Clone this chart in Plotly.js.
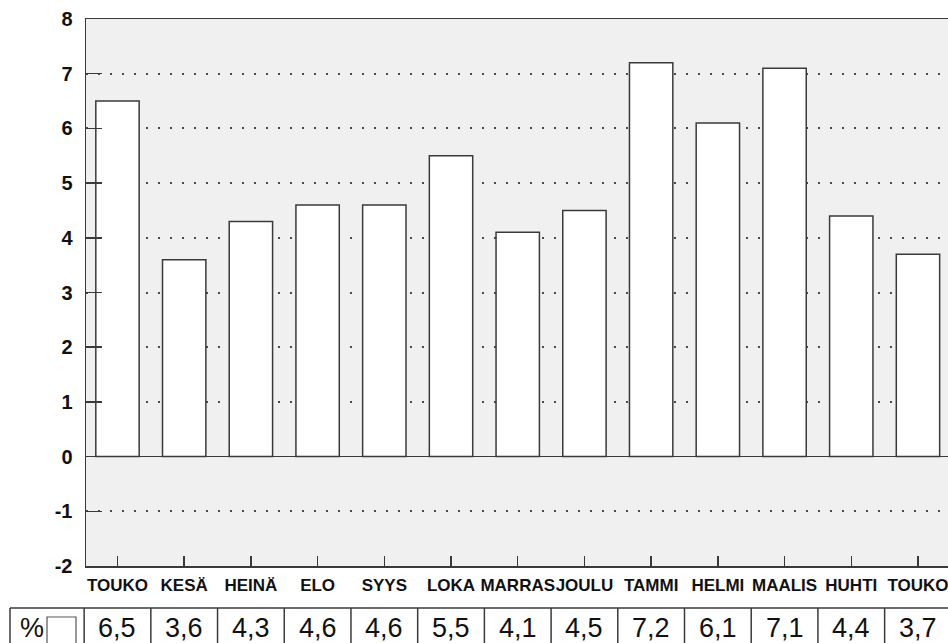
<!DOCTYPE html>
<html>
<head>
<meta charset="utf-8">
<script src="https://cdn.plot.ly/plotly-3.0.1.min.js"></script>
<style>html,body{margin:0;padding:0;background:#fff;}#chart{width:948px;height:643px;}</style>
</head>
<body>
<div id="chart"></div>
<script>
// Data
const months = ['TOUKO','KESÄ','HEINÄ','ELO','SYYS','LOKA','MARRAS','JOULU','TAMMI','HELMI','MAALIS','HUHTI','TOUKO'];
const values = [6.5, 3.6, 4.3, 4.6, 4.6, 5.5, 4.1, 4.5, 7.2, 6.1, 7.1, 4.4, 3.7];
const unitLabel = '%';
const yTicks = [-2, -1, 0, 1, 2, 3, 4, 5, 6, 7, 8];

const idx = months.map((_, i) => i);
const xRange = [-0.472, 12.45];
const W = 948, H = 643;
const margin = {l: 86, r: 0, t: 19, b: 77};
const plotH = H - margin.t - margin.b;
function px2paperY(py) { return (H - margin.b - py) / plotH; }
function data2paperX(x) { return (x - xRange[0]) / (xRange[1] - xRange[0]); }
function px2dataX(px) { return xRange[0] + (px - margin.l) / (W - margin.l - margin.r) * (xRange[1] - xRange[0]); }

const lineColor = '#3a3a3a';
const tableTop = px2paperY(608);
const tableBottom = px2paperY(700);

const shapes = [];
shapes.push({type: 'line', xref: 'paper', yref: 'paper', x0: data2paperX(px2dataX(10)), x1: 1.05, y0: tableTop, y1: tableTop, line: {color: lineColor, width: 1.5}});
shapes.push({type: 'line', xref: 'paper', yref: 'paper', x0: data2paperX(px2dataX(10)), x1: data2paperX(px2dataX(10)), y0: tableTop, y1: tableBottom, line: {color: lineColor, width: 1.5}});
for (let i = -1; i < months.length - 1; i++) {
  const xp = data2paperX(i + 0.5);
  shapes.push({type: 'line', xref: 'paper', yref: 'paper', x0: xp, x1: xp, y0: tableTop, y1: tableBottom, line: {color: lineColor, width: 1.5}});
}
shapes.push({type: 'rect', xref: 'paper', yref: 'paper',
  x0: data2paperX(px2dataX(47)), x1: data2paperX(px2dataX(76)),
  y0: px2paperY(617), y1: px2paperY(660),
  line: {color: '#555', width: 1.2}, fillcolor: '#fff'});

const annotations = values.map((v, i) => ({
  x: i, xref: 'x', y: px2paperY(628), yref: 'paper',
  text: v.toFixed(1).replace('.', ','), showarrow: false,
  xanchor: 'center', yanchor: 'middle',
  font: {family: 'Liberation Sans, Arial, sans-serif', size: 27, color: '#111'}
}));
annotations.push({
  x: data2paperX(px2dataX(32)), xref: 'paper', y: px2paperY(628), yref: 'paper',
  text: unitLabel, showarrow: false, xanchor: 'center', yanchor: 'middle',
  font: {family: 'Liberation Sans, Arial, sans-serif', size: 27, color: '#111'}
});

const trace = {
  type: 'bar', x: idx, y: values,
  marker: {color: '#ffffff', line: {color: '#3a3a3a', width: 1.5}},
  hoverinfo: 'skip'
};

const layout = {
  width: W, height: H,
  margin: margin,
  paper_bgcolor: '#ffffff',
  plot_bgcolor: '#f0f0f0',
  showlegend: false,
  bargap: 0.35,
  xaxis: {
    range: xRange, tickvals: idx, ticktext: months, tickangle: 0,
    ticklabeloverflow: 'allow',
    ticks: 'inside', ticklen: 10, tickwidth: 1.5, tickcolor: lineColor,
    showgrid: false, zeroline: false,
    showline: true, linecolor: lineColor, linewidth: 1.5, mirror: true,
    tickfont: {family: 'Liberation Sans, Arial, sans-serif', size: 17, color: '#111', weight: 'bold'},
    ticklabelstandoff: 3,
    fixedrange: true
  },
  yaxis: {
    range: [-2, 8], tickvals: yTicks, ticktext: yTicks.map(String),
    ticks: 'inside', ticklen: 16, tickwidth: 1.5, tickcolor: lineColor,
    showgrid: true, gridcolor: '#4a4a4a', gridwidth: 2, griddash: '2px,10px',
    zeroline: true, zerolinecolor: lineColor, zerolinewidth: 1.5,
    showline: true, linecolor: lineColor, linewidth: 1.5,
    tickfont: {family: 'Liberation Sans, Arial, sans-serif', size: 20, color: '#111', weight: 'bold'},
    ticklabelstandoff: 8,
    fixedrange: true
  },
  shapes: shapes,
  annotations: annotations
};

Plotly.newPlot('chart', [trace], layout, {displayModeBar: false, staticPlot: true});
</script>
</body>
</html>
